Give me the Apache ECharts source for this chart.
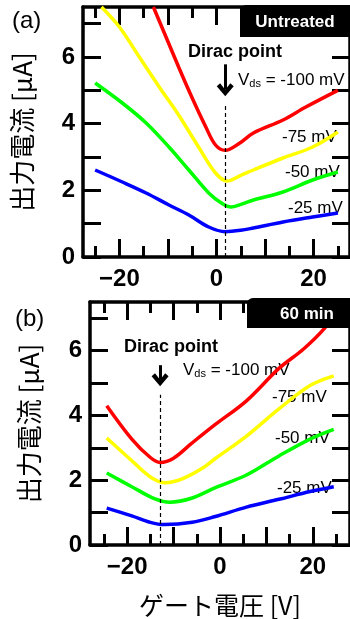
<!DOCTYPE html>
<html>
<head>
<meta charset="utf-8">
<script src="https://cdn.jsdelivr.net/npm/echarts@6/dist/echarts.min.js"></script>
<style>
  html, body { margin: 0; padding: 0; background: #fff; }
  #chart { width: 350px; height: 619px; }
</style>
</head>
<body>
<div id="chart"></div>
<script>
'use strict';

// (a) Untreated
var redAx = [-13, -10.4, -7.8, -5.1, -2.2, -0.2, 1.8, 4.8, 7.6, 13.7, 18.4, 25];
var redAy = [7.5, 6.6, 5.7, 4.8, 3.9, 3.36, 3.2, 3.42, 3.72, 4.11, 4.5, 5.0];
var yellowAx = [-23.7, -20, -15.9, -11.8, -7.8, -3.7, -0.2, 2.2, 5, 7.6, 13.7, 19.8, 25];
var yellowAy = [7.5, 6.9, 6.0, 5.1, 4.26, 3.3, 2.52, 2.28, 2.45, 2.61, 2.97, 3.3, 3.75];
var greenAx = [-25, -19.4, -14.5, -9.8, -5.7, -1.6, 1, 3, 5, 7.6, 13.7, 19.8, 25];
var greenAy = [5.22, 4.62, 4.02, 3.3, 2.61, 1.92, 1.62, 1.5, 1.58, 1.71, 1.95, 2.31, 2.55];
var blueAx = [-25, -19.4, -14.5, -9.8, -5.7, -1.6, 1.8, 5, 7.6, 13.7, 19.8, 25];
var blueAy = [2.61, 2.25, 1.92, 1.56, 1.26, 0.9, 0.76, 0.8, 0.87, 1.05, 1.2, 1.32];

// (b) 60 min
var redBx = [-24.4, -19, -15, -12.9, -10, -6, -1, 5.7, 12.7, 18, 22.4, 25];
var redBy = [4.3, 3.27, 2.7, 2.55, 2.68, 3.15, 3.72, 4.45, 5.45, 6.05, 6.67, 7.2];
var yellowBx = [-24.4, -19, -15, -11.8, -8, -4, -1, 5.7, 12.7, 19.4, 24.5];
var yellowBy = [3.3, 2.6, 2.1, 1.92, 2.05, 2.35, 2.67, 3.36, 4.2, 4.92, 5.22];
var greenBx = [-24.4, -19, -14, -10.8, -6, -1, 5.7, 12.7, 19.4, 24.5];
var greenBy = [2.22, 1.8, 1.42, 1.32, 1.45, 1.77, 2.16, 2.75, 3.27, 3.57];
var blueBx = [-24.4, -19, -15, -12, -6, -1, 5.7, 12.7, 19.4, 24.5];
var blueBy = [1.14, 0.9, 0.7, 0.63, 0.7, 0.88, 1.17, 1.41, 1.65, 1.8];

var diracA = 1.8;
var diracB = -12.9;

var xMajorTicks = [-20, -10, 0, 10, 20];
var xMinorTicks = [-25, -15, -5, 5, 15, 25];
var xLabels = [-20, 0, 20];
var yTicks = [0, 1, 2, 3, 4, 5, 6, 7];

var numFont = 'Liberation Sans';
var jpFont = 'Noto Sans CJK JP';

function pairs(xs, ys) {
  return xs.map(function (x, i) { return [x, ys[i]]; });
}

function xAxes(grid, min, max, withName) {
  var base = {
    type: 'value', gridIndex: grid, min: min, max: max,
    splitLine: { show: false }
  };
  var lineOn = { show: true, onZero: false, lineStyle: { color: '#000', width: 3.5 } };
  var tickStyle = { color: '#000', width: 3 };
  return [
    Object.assign({}, base, {
      position: 'bottom',
      axisLine: lineOn,
      axisTick: { inside: true, length: 18, lineStyle: tickStyle, customValues: xMajorTicks },
      axisLabel: {
        customValues: xLabels, margin: 10,
        fontFamily: numFont, fontWeight: 'bold', fontSize: 24, color: '#000',
        formatter: function (v) { return v < 0 ? '\u2212' + Math.abs(v) : String(v); }
      },
      name: withName ? 'ゲート電圧 [V]' : '',
      nameLocation: 'middle', nameGap: 48,
      nameTextStyle: { fontFamily: jpFont, fontSize: 25, color: '#000' }
    }),
    Object.assign({}, base, {
      position: 'bottom',
      axisLine: { show: false, onZero: false },
      axisTick: { inside: true, length: 11, lineStyle: tickStyle, customValues: xMinorTicks },
      axisLabel: { show: false }
    }),
    Object.assign({}, base, {
      position: 'top',
      axisLine: lineOn,
      axisTick: { inside: true, length: 18, lineStyle: tickStyle, customValues: xMajorTicks },
      axisLabel: { show: false }
    }),
    Object.assign({}, base, {
      position: 'top',
      axisLine: { show: false, onZero: false },
      axisTick: { inside: true, length: 11, lineStyle: tickStyle, customValues: xMinorTicks },
      axisLabel: { show: false }
    })
  ];
}

function yAxes(grid) {
  var base = {
    type: 'value', gridIndex: grid, min: 0, max: 7.5,
    splitLine: { show: false },
    axisLine: { show: true, onZero: false, lineStyle: { color: '#000', width: 3.5 } },
    axisTick: { inside: true, length: 18, lineStyle: { color: '#000', width: 3 }, customValues: yTicks }
  };
  return [
    Object.assign({}, base, {
      position: 'left',
      axisLabel: {
        customValues: [0, 2, 4, 6], margin: 8,
        fontFamily: numFont, fontWeight: 'bold', fontSize: 24, color: '#000'
      },
      name: '出力電流 [μA]', nameLocation: 'middle', nameRotate: 90, nameGap: 48,
      nameTextStyle: { fontFamily: jpFont, fontSize: 26, color: '#000' }
    }),
    Object.assign({}, base, {
      position: 'right',
      axisLabel: { show: false }
    })
  ];
}

var arrowPath = 'path://M10 0 L20 10 L16 13 L10 6.5 L4 13 L0 10 Z';

function curve(name, xi, yi, data, color, extra) {
  return Object.assign({
    name: name, type: 'line', xAxisIndex: xi, yAxisIndex: yi,
    data: data, smooth: 0.35, showSymbol: false, clip: true,
    lineStyle: { color: color, width: 3.5 }, z: 3
  }, extra || {});
}

function diracMarks(x, top, arrowFrom, arrowTo) {
  return {
    dashed: {
      markLine: {
        silent: true, symbol: ['none', 'none'], label: { show: false },
        lineStyle: { color: '#000', width: 1.2, type: [4, 3] },
        data: [[{ coord: [x, 0] }, { coord: [x, top] }]]
      }
    },
    arrow: {
      markLine: {
        silent: true, symbol: ['none', arrowPath], symbolSize: [17, 13],
        label: { show: false },
        lineStyle: { color: '#000', width: 3, type: 'solid' },
        data: [[{ coord: [x, arrowFrom] }, { coord: [x, arrowTo] }]]
      }
    }
  };
}

var markA = diracMarks(diracA, 4.62, 5.78, 5.02);
var markB = diracMarks(diracB, 4.64, 5.55, 5.1);

var txt = function (left, top, text, size, weight, extra) {
  return Object.assign({
    type: 'text', left: left, top: top,
    style: { text: text, fontFamily: numFont, fontSize: size, fontWeight: weight || 'normal', fill: '#000' }
  }, extra || {});
};

function vdsLabel(x, y) {
  return {
    type: 'text', x: x, y: y,
    style: {
      text: '{v|V}{s|ds}{v| = -100 mV}',
      verticalAlign: 'middle',
      rich: {
        v: { fontFamily: numFont, fontSize: 17, fill: '#000' },
        s: { fontFamily: numFont, fontSize: 11, fill: '#000', padding: [8, 0, 0, 0] }
      }
    }
  };
}

function mvLabel(x, y, text) {
  return {
    type: 'text', x: x, y: y,
    style: { text: text, fontFamily: numFont, fontSize: 17, fill: '#000', verticalAlign: 'middle' }
  };
}

var option = {
  animation: false,
  backgroundColor: '#fff',
  grid: [
    { left: 83, top: 7, width: 270, height: 250 },
    { left: 90, top: 302, width: 272, height: 250 }
  ],
  xAxis: xAxes(0, -27.5, 27.5, false).concat(xAxes(1, -28, 28, true)),
  yAxis: yAxes(0).concat(yAxes(1)),
  series: [
    curve('-100 mV', 0, 0, pairs(redAx, redAy), '#ff0000'),
    curve('-75 mV', 0, 0, pairs(yellowAx, yellowAy), '#ffff00'),
    curve('-50 mV', 0, 0, pairs(greenAx, greenAy), '#00ff00', markA.arrow),
    curve('-25 mV', 0, 0, pairs(blueAx, blueAy), '#0000ff', markA.dashed),
    curve('-100 mV', 4, 2, pairs(redBx, redBy), '#ff0000'),
    curve('-75 mV', 4, 2, pairs(yellowBx, yellowBy), '#ffff00'),
    curve('-50 mV', 4, 2, pairs(greenBx, greenBy), '#00ff00', markB.arrow),
    curve('-25 mV', 4, 2, pairs(blueBx, blueBy), '#0000ff', markB.dashed)
  ],
  graphic: [
    txt(12, 9, '(a)', 24),
    { type: 'rect', shape: { x: 240, y: 5, width: 115, height: 32, r: [6, 0, 0, 0] }, style: { fill: '#000' }, z: 10 },
    { type: 'text', x: 295, y: 22, z: 11, style: { text: 'Untreated', fontFamily: numFont, fontWeight: 'bold', fontSize: 17, fill: '#fff', align: 'center', verticalAlign: 'middle' } },
    { type: 'text', x: 235, y: 52, style: { text: 'Dirac point', fontFamily: numFont, fontWeight: 'bold', fontSize: 18, fill: '#000', align: 'center', verticalAlign: 'middle' } },
    vdsLabel(238, 80),
    mvLabel(282, 137, '-75 mV'),
    mvLabel(285, 172, '-50 mV'),
    mvLabel(288, 208, '-25 mV'),

    txt(15, 307, '(b)', 24),
    { type: 'rect', shape: { x: 247, y: 298, width: 110, height: 30, r: [6, 0, 0, 0] }, style: { fill: '#000' }, z: 10 },
    { type: 'text', x: 307, y: 314, z: 11, style: { text: '60 min', fontFamily: numFont, fontWeight: 'bold', fontSize: 17, fill: '#fff', align: 'center', verticalAlign: 'middle' } },
    { type: 'text', x: 171, y: 347, style: { text: 'Dirac point', fontFamily: numFont, fontWeight: 'bold', fontSize: 18, fill: '#000', align: 'center', verticalAlign: 'middle' } },
    vdsLabel(183, 370),
    mvLabel(272, 397, '-75 mV'),
    mvLabel(275, 438, '-50 mV'),
    mvLabel(277, 488, '-25 mV')
  ]
};

var chart = echarts.init(document.getElementById('chart'), null, { renderer: 'canvas' });
chart.setOption(option);
</script>
</body>
</html>
